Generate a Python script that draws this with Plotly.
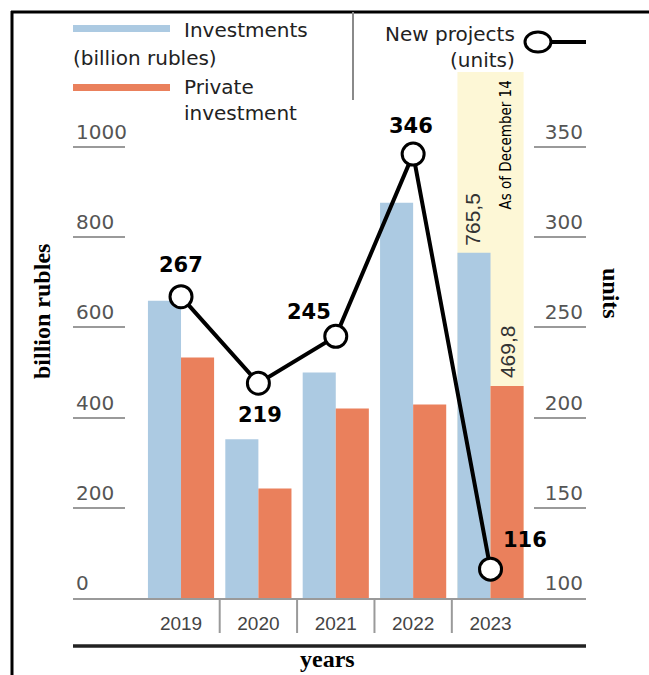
import plotly.graph_objects as go

# ---------------- data ----------------
years = ["2019", "2020", "2021", "2022", "2023"]
investments = [659, 352, 500, 876, 765.5]          # billion rubles
private_investment = [533, 243, 420, 429, 469.8]   # billion rubles
new_projects = [267, 219, 245, 346, 116]           # units
left_ticks = [0, 200, 400, 600, 800, 1000]
right_ticks = [100, 150, 200, 250, 300, 350]

# ---------------- style ----------------
BLUE = "#accae2"
ORANGE = "#ea805c"
YELLOW = "#fdf7d6"
GRAY = "#9a9a9a"
SANS = "Liberation Sans, Arial, sans-serif"
WIDE = "DejaVu Sans, sans-serif"
SERIF = "Liberation Serif, Times New Roman, serif"
NARROW = "Liberation Sans Narrow, Arial Narrow, DejaVu Sans Condensed, sans-serif"

W, H = 649, 675
L, R, T, B = 73, 63, 72, 77
PW, PH = W - L - R, H - T - B
BARGAP = 0.145


def px(x):
    return (x - L) / PW


def py(y):
    return (H - B - y) / PH


left_top = 1166
fig = go.Figure()
fig.add_trace(go.Bar(x=years, y=investments, name="Investments (billion rubles)",
                     marker=dict(color=BLUE, line=dict(width=0)), yaxis="y"))
fig.add_trace(go.Bar(x=years, y=private_investment, name="Private investment",
                     marker=dict(color=ORANGE, line=dict(width=0)), yaxis="y"))
fig.add_trace(go.Scatter(x=years, y=new_projects, name="New projects (units)", yaxis="y2",
                         mode="lines+markers", line=dict(color="black", width=4),
                         marker=dict(size=22, color="white", line=dict(color="black", width=3))))

shapes = []
half = (1 - BARGAP) / 2
last = len(years) - 1
# highlight band for the last (partial) year
shapes.append(dict(type="rect", xref="x", yref="paper", x0=last - half, x1=last + half,
                   y0=0, y1=1, fillcolor=YELLOW, line=dict(width=0), layer="below"))
# category separators
for i in range(len(years) - 1):
    shapes.append(dict(type="line", xref="x", yref="paper", x0=i + 0.5, x1=i + 0.5,
                       y0=0, y1=py(633), line=dict(color=GRAY, width=2)))
# thick line under the years
shapes.append(dict(type="line", xref="paper", yref="paper", x0=0, x1=1, y0=py(646), y1=py(646),
                   line=dict(color="#222222", width=3.5)))
# frame (top and left)
shapes.append(dict(type="line", xref="paper", yref="paper", x0=px(11), x1=px(660), y0=py(12), y1=py(12),
                   line=dict(color="black", width=3)))
shapes.append(dict(type="line", xref="paper", yref="paper", x0=px(12), x1=px(12), y0=py(11), y1=py(690),
                   line=dict(color="black", width=3)))
# legend swatches
shapes.append(dict(type="rect", xref="paper", yref="paper", x0=px(73), x1=px(170), y0=py(32), y1=py(25),
                   fillcolor=BLUE, line=dict(width=0)))
shapes.append(dict(type="rect", xref="paper", yref="paper", x0=px(73), x1=px(170), y0=py(91), y1=py(84),
                   fillcolor=ORANGE, line=dict(width=0)))
# legend divider
shapes.append(dict(type="line", xref="paper", yref="paper", x0=px(353), x1=px(353), y0=py(12), y1=py(100),
                   line=dict(color="#8a8a8a", width=2)))
# legend line-marker icon
shapes.append(dict(type="line", xref="paper", yref="paper", x0=px(548), x1=px(586), y0=py(42), y1=py(42),
                   line=dict(color="black", width=4)))
shapes.append(dict(type="circle", xref="paper", yref="paper", x0=px(525), x1=px(551), y0=py(52), y1=py(32),
                   fillcolor="white", line=dict(color="black", width=3)))

ann = []
leg_font = dict(family=WIDE, size=20, color="#222222")
ann += [
    dict(xref="paper", yref="paper", x=px(182), y=py(30), text="Investments", xanchor="left",
         yanchor="middle", showarrow=False, font=leg_font),
    dict(xref="paper", yref="paper", x=px(71), y=py(58), text="(billion rubles)", xanchor="left",
         yanchor="middle", showarrow=False, font=leg_font),
    dict(xref="paper", yref="paper", x=px(182), y=py(87), text="Private", xanchor="left",
         yanchor="middle", showarrow=False, font=leg_font),
    dict(xref="paper", yref="paper", x=px(182), y=py(113), text="investment", xanchor="left",
         yanchor="middle", showarrow=False, font=leg_font),
    dict(xref="paper", yref="paper", x=px(517), y=py(47), text="New projects<br>(units)", xanchor="right",
         yanchor="middle", align="right", showarrow=False, font=leg_font),
]
# axis titles
title_font = dict(family=SERIF, size=24, color="black")
ann += [
    dict(xref="paper", yref="paper", x=px(42), y=py(312), text="<b>billion rubles</b>", textangle=-90,
         xanchor="center", yanchor="middle", showarrow=False, font=title_font),
    dict(xref="paper", yref="paper", x=px(611), y=py(293), text="<b>units</b>", textangle=90,
         xanchor="center", yanchor="middle", showarrow=False, font=title_font),
    dict(xref="paper", yref="paper", x=px(327), y=py(659), text="<b>years</b>",
         xanchor="center", yanchor="middle", showarrow=False,
         font=dict(family=SERIF, size=24, color="black")),
]
# data labels for new projects
offsets = [(0, 32), (2, -32), (-27, 24), (-2, 28), (34, 29)]
for i, (v, (dx, dy)) in enumerate(zip(new_projects, offsets)):
    ann.append(dict(x=i, y=v, xref="x", yref="y2", text=f"<b>{v}</b>", showarrow=False,
                    xanchor="center", yanchor="middle",
                    xshift=dx, yshift=dy, font=dict(family=WIDE, size=21, color="black")))
# value labels of the last year's bars
bar_font = dict(family=SANS, size=21, color="#333333")
ann.append(dict(x=last, y=investments[-1], xref="x", yref="y",
                text=f"{investments[-1]:.1f}".replace(".", ","), textangle=-90, showarrow=False,
                xanchor="center", yanchor="bottom", xshift=-18, yshift=5, font=bar_font))
ann.append(dict(x=last, y=private_investment[-1], xref="x", yref="y",
                text=f"{private_investment[-1]:.1f}".replace(".", ","), textangle=-90, showarrow=False,
                xanchor="center", yanchor="bottom", xshift=17, yshift=6, font=bar_font))
ann.append(dict(x=last, y=py(145), xref="x", yref="paper", text="As of December 14",
                textangle=-90, showarrow=False, xshift=15, xanchor="center", yanchor="middle",
                font=dict(family=NARROW, size=15, color="black")))

tick_font = dict(family=WIDE, size=20, color="#555555")
fig.update_layout(
    width=W, height=H, autosize=False,
    margin=dict(l=L, r=R, t=T, b=B, pad=0),
    paper_bgcolor="white", plot_bgcolor="white",
    showlegend=False,
    barmode="group", bargap=BARGAP, bargroupgap=0,
    xaxis=dict(type="category", range=[-1.396, 5.234], showline=True, linecolor=GRAY, linewidth=2,
               ticks="outside", ticklen=7, tickcolor="rgba(0,0,0,0)", showgrid=False, zeroline=False,
               tickfont=dict(family=SANS, size=19, color="#444444")),
    yaxis=dict(range=[0, left_top], tickvals=left_ticks, ticks="inside", ticklen=52, tickwidth=2,
               tickcolor=GRAY, ticklabelposition="inside top", showgrid=False, zeroline=False,
               showline=False, tickfont=tick_font),
    yaxis2=dict(range=[100, 100 + left_top / 4], tickvals=right_ticks, overlaying="y", side="right",
                ticks="inside", ticklen=52, tickwidth=2, tickcolor=GRAY, ticklabelposition="inside top",
                showgrid=False, zeroline=False, showline=False, tickfont=tick_font),
    shapes=shapes,
    annotations=ann,
)

fig.write_html("out.html")
